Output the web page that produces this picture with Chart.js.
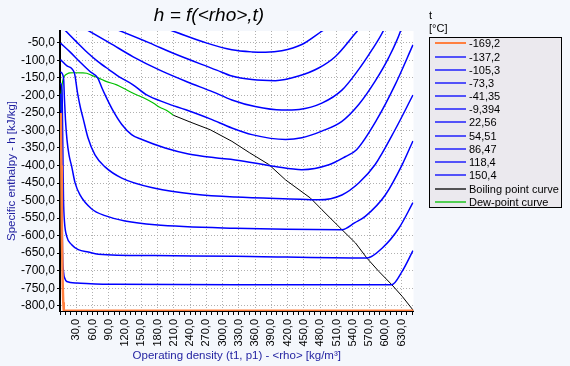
<!DOCTYPE html>
<html>
<head>
<meta charset="utf-8">
<script src="https://cdn.jsdelivr.net/npm/chart.js@4"></script>
<style>
  html, body { margin: 0; padding: 0; background: #f4f7fc; }
</style>
</head>
<body>
<canvas id="myChart" width="570" height="366"></canvas>
<script>
// isotherm labels (legend), in °C
let tLabels = ['-169,2','-137,2','-105,3','-73,3','-41,35','-9,394','22,56','54,51','86,47','118,4','150,4'];

// labelled ticks
let hTicks = [-800,-750,-700,-650,-600,-550,-500,-450,-400,-350,-300,-250,-200,-150,-100,-50];
let rhoTicks = [30,60,90,120,150,180,210,240,270,300,330,360,390,420,450,480,510,540,570,600,630];

// [rho kg/m3, h kJ/kg]
let iso169 = [[1.5,-250],[2.5,-400],[3.5,-600],[5,-740],[6,-790],[7,-814],[652,-814]];
let iso137 = [[0.9,-195],[1.8,-213],[2.8,-355],[3.7,-498],[4.6,-640],[6.5,-703],[9.2,-723],[12.4,-731],[30.8,-735],[101,-739],[323,-740],[612,-740],[631,-702],[651,-643]];
let iso105 = [[0.9,-165],[3.7,-185],[4.6,-270],[5.5,-384],[6.5,-498],[8.3,-561],[12.4,-602],[21.6,-626],[33.7,-640],[52.2,-647],[70.6,-653],[175,-657],[323,-659],[566,-664],[594,-636],[625,-579],[651,-506]];
let iso73 = [[0.9,-133],[6.5,-150],[8.3,-213],[10.1,-270],[12.9,-327],[16.6,-370],[21.6,-403],[27.7,-449],[36.9,-484],[58.5,-524],[83,-543],[120,-558],[175,-569],[323,-579],[520,-583],[544,-563],[563,-545],[600,-484],[631,-398],[651,-330]];
let iso41 = [[0.9,-98],[12.9,-116],[26.4,-135.5],[32.3,-193],[37.8,-236],[42.4,-264],[51.6,-321],[64.5,-370],[83,-404],[114,-436],[175,-465],[249,-482],[323,-490],[443,-496],[477,-498],[520,-484],[551,-450],[581,-398],[618,-298],[651,-199]];
let iso9 = [[0.9,-51],[18.4,-76],[36.9,-105],[55.3,-132],[69.5,-150],[77.4,-179],[83,-198],[98.3,-245],[114,-283],[132,-312],[151,-326],[194,-350],[237,-367],[286,-378],[323,-384],[397,-403],[446,-412],[496,-398],[526,-375],[547,-355],[584,-270],[618,-170],[651,-56]];
let iso22 = [[0,1],[11.1,-17],[29.5,-46],[47.9,-74],[69.5,-103],[90.9,-127],[112.5,-150],[134,-169],[159,-198],[196,-222],[232,-241],[277,-267],[317,-293],[354,-312],[416,-326],[446,-321],[483,-302],[520,-274],[551,-226],[581,-160],[606,-93],[628,-17],[633,9]];
let iso54 = [[24.5,9],[55.3,-18],[92.2,-51],[135,-90],[184,-128],[234,-161],[282,-190],[317,-213],[360,-232],[409,-242],[441,-240],[483,-222],[520,-185],[550,-128],[575,-71],[596,-17],[603,9]];
let iso86 = [[70,9],[114,-18],[166,-51],[209,-80],[289,-128],[317,-145],[354,-155],[397,-158],[440,-145],[477,-122],[508,-89],[548,-17],[563,9]];
let iso118 = [[161,9],[209,-17],[271,-51],[317,-70],[354,-76],[379,-77],[409,-73],[446,-55],[483,-17],[509,9]];
let iso150 = [[300,12],[400,6],[500,12]];
let boiling = [[209,-256.6],[240,-276],[277,-298],[317,-331],[350,-364],[385,-397],[416,-441],[462,-493],[483,-526],[520,-583],[545,-621],[566,-664],[588,-702],[612,-740],[631,-773],[652,-814]];
let dew = [[1.5,-242],[1.8,-213],[2.8,-185],[4.6,-162],[6.5,-150],[9.2,-143],[12.9,-139],[18.4,-136],[26.4,-135.5],[40,-136],[49.2,-137],[58.5,-143],[70.6,-150],[84.8,-160],[104.6,-170],[120,-182],[135,-194],[154,-207],[172,-222],[184,-234],[197,-243],[209,-256.6]];

function pts(a) { return a.map(p => ({x: p[0], y: p[1]})); }
function fmt(v) { return v.toFixed(1).replace('.', ','); }

let isoSeries = [iso169, iso137, iso105, iso73, iso41, iso9, iso22, iso54, iso86, iso118, iso150];
let datasets = isoSeries.map((s, i) => ({
  label: tLabels[i],
  data: pts(s),
  borderColor: i === 0 ? '#ff7f3f' : '#0000ff',
  borderWidth: i === 0 ? 2.5 : 1.5,
  cubicInterpolationMode: i === 0 ? 'default' : 'monotone',
  tension: 0
}));
datasets.push({ label: 'Boiling point curve', data: pts(boiling), borderColor: '#000000', borderWidth: 1, tension: 0 });
datasets.push({ label: 'Dew-point curve', data: pts(dew), borderColor: '#00c000', borderWidth: 1.2, cubicInterpolationMode: 'monotone' });

const yFont = { family: 'Liberation Sans', size: 12 };
const xFont = { family: 'Liberation Sans', size: 11 };
const titleFont = { family: 'Liberation Sans', size: 11.5 };

// minor x ticks every 10, labels only on rhoTicks
function xTickList() {
  let list = [];
  for (let v = 0; v <= 650; v += 10) list.push({ value: v });
  return list;
}

// background, title and the boxed legend
const decor = {
  id: 'decor',
  beforeDraw(chart) {
    const ctx = chart.ctx, a = chart.chartArea;
    ctx.save();
    ctx.fillStyle = '#f4f7fc';
    ctx.fillRect(0, 0, chart.width, chart.height);
    ctx.fillStyle = '#ffffff';
    ctx.fillRect(a.left, a.top, a.right - a.left, a.bottom - a.top);
    ctx.restore();
  },
  afterDraw(chart) {
    const ctx = chart.ctx;
    ctx.save();
    ctx.fillStyle = '#000';
    ctx.textAlign = 'center';
    ctx.textBaseline = 'middle';
    ctx.font = 'italic 19px "Liberation Sans"';
    ctx.fillText('h = f(<rho>,t)', 209, 16);

    ctx.textAlign = 'left';
    ctx.font = '11px "Liberation Sans"';
    ctx.fillText('t', 429, 16);
    ctx.fillText('[°C]', 429, 29);

    ctx.fillStyle = '#ebe9ee';
    ctx.fillRect(429.5, 37.5, 132, 170);
    ctx.strokeStyle = '#000';
    ctx.lineWidth = 1;
    ctx.strokeRect(429.5, 37.5, 132, 170);

    chart.data.datasets.forEach((ds, i) => {
      const y = Math.round(43.3 + i * 13.2);
      ctx.strokeStyle = ds.borderColor;
      ctx.lineWidth = i === 0 ? 2 : 1.3;
      ctx.beginPath();
      ctx.moveTo(435, y);
      ctx.lineTo(466, y);
      ctx.stroke();
      ctx.fillStyle = '#000';
      ctx.fillText(ds.label, 469, y + 0.5);
    });
    ctx.restore();
  }
};

function renderChart() {
  let ctx = document.getElementById('myChart');
  new Chart(ctx, {
    type: 'scatter',
    data: { datasets: datasets },
    options: {
      responsive: false,
      animation: false,
      showLine: true,
      elements: { point: { radius: 0 } },
      layout: { padding: { top: 31, right: 156.5, left: 0, bottom: 0 } },
      plugins: { legend: { display: false }, title: { display: false }, tooltip: { enabled: false } },
      scales: {
        x: {
          type: 'linear', min: 0, max: 652,
          border: { color: '#000', width: 1, dash: [1, 2] },
          grid: {
            color: c => (c.tick && rhoTicks.includes(c.tick.value)) ? '#b0b0b0' : 'rgba(0,0,0,0)',
            tickColor: '#000', tickLength: 4
          },
          ticks: {
            autoSkip: false, minRotation: 90, maxRotation: 90, padding: 4,
            color: '#000', font: xFont,
            callback: v => rhoTicks.includes(v) ? fmt(v) : ''
          },
          afterBuildTicks: s => { s.ticks = xTickList(); },
          title: { display: true, text: 'Operating density (t1, p1) - <rho> [kg/m³]', color: '#1f1fa0', font: titleFont, padding: { top: 0, bottom: 3 } },
          afterFit: s => { s.height = 55; }
        },
        y: {
          type: 'linear', min: -815, max: -16.4,
          border: { color: '#000', width: 2, dash: [1, 2] },
          grid: { color: '#b0b0b0', tickColor: '#000', tickLength: 3 },
          ticks: {
            autoSkip: false, padding: 2, color: '#000', font: yFont,
            callback: v => fmt(v)
          },
          afterBuildTicks: s => { s.ticks = hTicks.map(v => ({ value: v })); },
          title: { display: true, text: 'Specific enthalpy - h [kJ/kg]', color: '#1f1fa0', font: titleFont, padding: { top: 5, bottom: 0 } },
          afterFit: s => { s.width = 60; }
        }
      }
    },
    plugins: [decor]
  });
}

renderChart();
</script>
</body>
</html>
